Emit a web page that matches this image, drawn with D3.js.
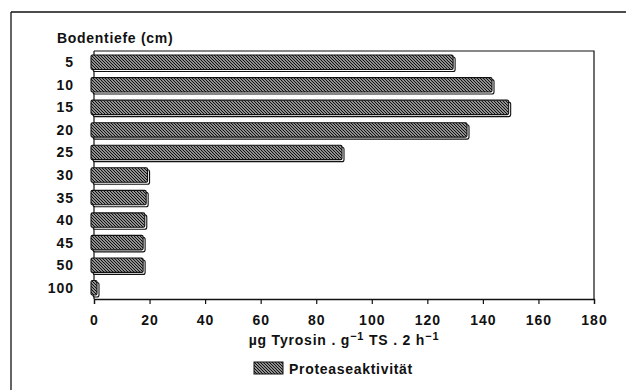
<!DOCTYPE html>
<html><head><meta charset="utf-8">
<script src="https://cdn.jsdelivr.net/npm/d3@7"></script>
<style>
body{margin:0;background:#fff;}
text{font-family:"Liberation Sans",Arial,sans-serif;font-weight:bold;fill:#111;}
</style></head>
<body>
<svg id="chart" width="626" height="390"></svg>
<script>
const categories = ["5","10","15","20","25","30","35","40","45","50","100"];
const values = [130,144,150,135,90,20,19.5,19,18.4,18.4,1.8];
const xTicks = [0,20,40,60,80,100,120,140,160,180];
const seriesName = "Proteaseaktivität";
const yTitle = "Bodentiefe (cm)";

const svg = d3.select("#chart");
const W = 626, H = 390;
const m = {left:94, top:51, right:594, bottom:299};

const defs = svg.append("defs");
const pat = defs.append("pattern").attr("id","hatch").attr("patternUnits","userSpaceOnUse")
  .attr("width",3).attr("height",3);
pat.append("rect").attr("width",3).attr("height",3).attr("fill","#fff");
pat.append("path").attr("d","M-1,-1 L4,4 M-1,2 L1,4 M2,-1 L4,1").attr("stroke","#111").attr("stroke-width",1.35);

svg.append("line").attr("x1",11).attr("x2",W).attr("y1",12).attr("y2",12).attr("stroke","#111").attr("stroke-width",1.3);
svg.append("line").attr("x1",11).attr("x2",11).attr("y1",12).attr("y2",H).attr("stroke","#111").attr("stroke-width",1.3);

const x = d3.scaleLinear().domain([0,180]).range([m.left,m.right]);
const y = d3.scaleBand().domain(categories).range([m.top,m.bottom]).paddingInner(0.36).paddingOuter(0.18);

svg.append("path").attr("d",`M${m.left},${m.top}H${m.right}V${m.bottom}`).attr("fill","none").attr("stroke","#111").attr("stroke-width",1.2);
svg.append("line").attr("x1",m.left).attr("x2",m.left).attr("y1",m.top).attr("y2",m.bottom).attr("stroke","#111").attr("stroke-width",1.2);

const xAxis = svg.append("g").attr("transform",`translate(0,${m.bottom})`)
  .call(d3.axisBottom(x).tickValues(xTicks).tickSize(5).tickPadding(11).tickFormat(d3.format("d")));
xAxis.select(".domain").attr("stroke","#111").attr("stroke-width",1.3);
xAxis.selectAll(".tick line").attr("stroke","#111").attr("stroke-width",1.2);
xAxis.selectAll("text").attr("font-size",14).attr("letter-spacing","1px").attr("font-family",null).attr("fill","#111");

svg.append("g").selectAll("text").data(categories).join("text")
  .attr("x",74).attr("y",d=>y(d)+y.bandwidth()/2).attr("dy","0.36em")
  .attr("text-anchor","end").attr("font-size",14).attr("letter-spacing","1px").text(d=>d);
svg.append("text").attr("x",57).attr("y",43).attr("font-size",14).attr("letter-spacing","0.7px").text(yTitle);

const bars = svg.append("g").selectAll("g").data(categories.map((c,i)=>({c,v:values[i]}))).join("g");
bars.append("rect")
  .attr("x",x(0)-1).attr("y",d=>y(d.c)+2)
  .attr("width",d=>Math.max(2,x(d.v)-x(0)+1)).attr("height",y.bandwidth())
  .attr("rx",2).attr("fill","#fff").attr("stroke","#111").attr("stroke-width",1.1);
bars.append("rect")
  .attr("x",x(0)-3).attr("y",d=>y(d.c))
  .attr("width",d=>Math.max(2,x(d.v)-x(0)+1)).attr("height",y.bandwidth())
  .attr("rx",1.5).attr("fill","url(#hatch)").attr("stroke","#111").attr("stroke-width",1.1);

const xt = svg.append("text").attr("x",(m.left+m.right)/2).attr("y",345).attr("text-anchor","middle")
  .attr("font-size",14).attr("letter-spacing","0.8px");
xt.append("tspan").text("µg Tyrosin . g");
xt.append("tspan").attr("dy",-5).attr("font-size",11).text("−1");
xt.append("tspan").attr("dy",5).text(" TS . 2 h");
xt.append("tspan").attr("dy",-5).attr("font-size",11).text("−1");

svg.append("rect").attr("x",254).attr("y",362).attr("width",29).attr("height",12)
  .attr("fill","url(#hatch)").attr("stroke","#111").attr("stroke-width",1);
svg.append("text").attr("x",289).attr("y",374).attr("font-size",14).attr("letter-spacing","0.7px").text(seriesName);
</script>
</body></html>
